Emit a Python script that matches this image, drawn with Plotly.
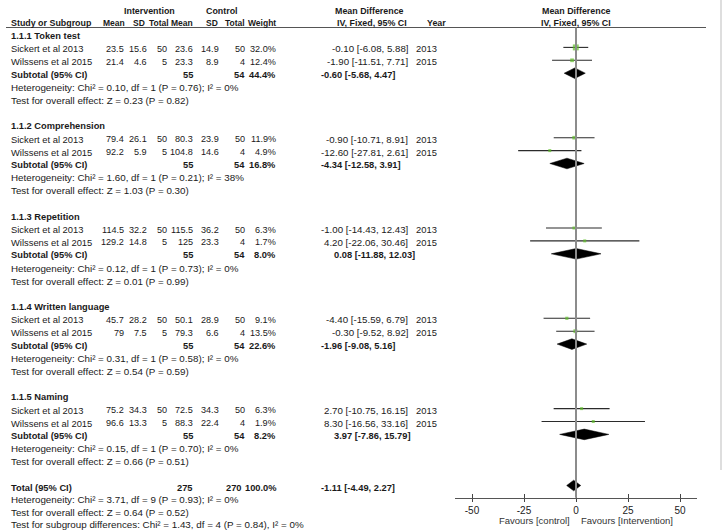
import plotly.graph_objects as go

# ---------------- data ----------------
subgroups = ["1.1.1 Token test", "1.1.2 Comprehension", "1.1.3 Repetition",
             "1.1.4 Written language", "1.1.5 Naming"]
study_names = ["Sickert et al 2013", "Wilssens et al 2015"]
study_years = ["2013", "2015"]

int_mean = [[23.5, 21.4], [79.4, 92.2], [114.5, 129.2], [45.7, 79], [75.2, 96.6]]
int_sd = [[15.6, 4.6], [26.1, 5.9], [32.2, 14.8], [28.2, 7.5], [34.3, 13.3]]
int_n = [[50, 5], [50, 5], [50, 5], [50, 5], [50, 5]]
ctl_mean = [[23.6, 23.3], [80.3, 104.8], [115.5, 125], [50.1, 79.3], [72.5, 88.3]]
ctl_sd = [[14.9, 8.9], [23.9, 14.6], [36.2, 23.3], [28.9, 6.6], [34.3, 22.4]]
ctl_n = [[50, 4], [50, 4], [50, 4], [50, 4], [50, 4]]
weights = [[32.0, 12.4], [11.9, 4.9], [6.3, 1.7], [9.1, 13.5], [6.3, 1.9]]
md = [[-0.10, -1.90], [-0.90, -12.60], [-1.00, 4.20], [-4.40, -0.30], [2.70, 8.30]]
md_lo = [[-6.08, -11.51], [-10.71, -27.81], [-14.43, -22.06], [-15.59, -9.52], [-10.75, -16.56]]
md_hi = [[5.88, 7.71], [8.91, 2.61], [12.43, 30.46], [6.79, 8.92], [16.15, 33.16]]

sub_int_n = [55, 55, 55, 55, 55]
sub_ctl_n = [54, 54, 54, 54, 54]
sub_weight = [44.4, 16.8, 8.0, 22.6, 8.2]
sub_md = [-0.60, -4.34, 0.08, -1.96, 3.97]
sub_lo = [-5.68, -12.58, -11.88, -9.08, -7.86]
sub_hi = [4.47, 3.91, 12.03, 5.16, 15.79]
sub_het = ["Chi² = 0.10, df = 1 (P = 0.76); I² = 0%",
           "Chi² = 1.60, df = 1 (P = 0.21); I² = 38%",
           "Chi² = 0.12, df = 1 (P = 0.73); I² = 0%",
           "Chi² = 0.31, df = 1 (P = 0.58); I² = 0%",
           "Chi² = 0.15, df = 1 (P = 0.70); I² = 0%"]
sub_z = ["Z = 0.23 (P = 0.82)", "Z = 1.03 (P = 0.30)", "Z = 0.01 (P = 0.99)",
         "Z = 0.54 (P = 0.59)", "Z = 0.66 (P = 0.51)"]

total_int_n = 275
total_ctl_n = 270
total_weight = 100.0
total_md = -1.11
total_lo = -4.49
total_hi = 2.27
total_het = "Chi² = 3.71, df = 9 (P = 0.93); I² = 0%"
total_z = "Z = 0.64 (P = 0.52)"
subgroup_diff = "Chi² = 1.43, df = 4 (P = 0.84), I² = 0%"

axis_ticks = [-50, -25, 0, 25, 50]
favours_left = "Favours [control]"
favours_right = "Favours [Intervention]"

# ---------------- layout helpers ----------------
W, H = 723, 532
FONT = "Liberation Sans, Arial, sans-serif"
FS = 9.8     # regular descriptive text
NFS = 9.1    # numeric table columns
BFS = 9.3    # bold body text
HFS = 8.9    # header text
CHFS = 8.5   # column header text
TXT = "#1a1a1a"
GREEN = "#5fbf2a"

Y0, PITCH = 36.0, 12.9
AXIS_Y = 497.7
HEAD_LINE_Y = 27.5

# forest x-axis pixel geometry
PX_L, PX_R, PX_ZERO, PX_PER_UNIT = 455, 697, 576, 2.08
x_range = [(PX_L - PX_ZERO) / PX_PER_UNIT, (PX_R - PX_ZERO) / PX_PER_UNIT]

# column x positions (pixels)
C_NAME = 10
C_IM, C_ISD, C_IN = 125, 148, 168
C_CM, C_CSD, C_CN = 194, 220, 246
C_SUBN = 194
C_W = 277
C_CI = 409
C_CI_BOLD_NEG, C_CI_BOLD_POS = 320, 333
C_YEAR = 415

ann = []


def txt(x, y, s, anchor="left", bold=False, size=None, color=TXT):
    if size is None:
        size = BFS if bold else FS
    if bold:
        s = "<b>" + s + "</b>"
    ann.append(dict(x=x / W, xref="paper", y=y, yref="y", text=s, showarrow=False,
                    xanchor=anchor, yanchor="middle", borderpad=0,
                    font=dict(size=size, color=color, family=FONT)))


def g(v):
    return f"{v:g}"


def ci(m, lo, hi):
    return f"{m:.2f} [{lo:.2f}, {hi:.2f}]"


fig = go.Figure()

# headers
txt(149, 11, "Intervention", "center", True, HFS)
txt(222, 11, "Control", "center", True, HFS)
txt(370, 11, "Mean Difference", "center", True, HFS)
txt(PX_ZERO, 11, "Mean Difference", "center", True, HFS)
hy = 22.5
txt(C_NAME, hy, "Study or Subgroup", "left", True, HFS)
txt(C_IM + 1, hy, "Mean", "right", True, CHFS)
txt(C_ISD - 2, hy, "SD", "right", True, CHFS)
txt(C_IN + 2, hy, "Total", "right", True, CHFS)
txt(C_CM, hy, "Mean", "right", True, CHFS)
txt(C_CSD - 1, hy, "SD", "right", True, CHFS)
txt(C_CN, hy, "Total", "right", True, CHFS)
txt(C_W, hy, "Weight", "right", True, CHFS)
txt(C_CI - 1, hy, "IV, Fixed, 95% CI", "right", True, HFS)
txt(447, hy, "Year", "right", True, HFS)
txt(PX_ZERO, hy, "IV, Fixed, 95% CI", "center", True, HFS)

ci_x, ci_y = [], []
pt_x, pt_y, pt_s = [], [], []
diamonds = []

row = 0
for gi, sg in enumerate(subgroups):
    y = Y0 + PITCH * row
    txt(C_NAME, y, sg, "left", True)
    row += 1
    for si in range(len(study_names)):
        y = Y0 + PITCH * row
        txt(C_NAME, y, study_names[si], size=9.4)
        txt(C_IM, y, g(int_mean[gi][si]), "right", size=NFS)
        txt(C_ISD, y, g(int_sd[gi][si]), "right", size=NFS)
        txt(C_IN, y, g(int_n[gi][si]), "right", size=NFS)
        txt(C_CM, y, g(ctl_mean[gi][si]), "right", size=NFS)
        txt(C_CSD, y, g(ctl_sd[gi][si]), "right", size=NFS)
        txt(C_CN, y, g(ctl_n[gi][si]), "right", size=NFS)
        txt(C_W, y, f"{weights[gi][si]:.1f}%", "right", size=NFS)
        txt(C_CI, y, ci(md[gi][si], md_lo[gi][si], md_hi[gi][si]), "right", size=9.7)
        txt(C_YEAR, y, study_years[si], "left", size=9.4)
        ci_x += [md_lo[gi][si], md_hi[gi][si], None]
        ci_y += [y - 1.5, y - 1.5, None]
        pt_x.append(md[gi][si])
        pt_y.append(y - 1.5)
        pt_s.append(max(3.0, 1.05 * weights[gi][si] ** 0.5))
        row += 1
    y = Y0 + PITCH * row
    txt(C_NAME, y, "Subtotal (95% CI)", "left", True)
    txt(C_SUBN, y, g(sub_int_n[gi]), "right", True)
    txt(C_CN, y, g(sub_ctl_n[gi]), "right", True)
    txt(C_W, y, f"{sub_weight[gi]:.1f}%", "right", True)
    txt(C_CI_BOLD_NEG if sub_md[gi] < 0 else C_CI_BOLD_POS, y,
        ci(sub_md[gi], sub_lo[gi], sub_hi[gi]), "left", True)
    diamonds.append((sub_lo[gi], sub_md[gi], sub_hi[gi], y - 1.5))
    row += 1
    txt(C_NAME, Y0 + PITCH * row, "Heterogeneity: " + sub_het[gi])
    row += 1
    txt(C_NAME, Y0 + PITCH * row, "Test for overall effect: " + sub_z[gi])
    row += 2

# total block
y = Y0 + PITCH * row
txt(C_NAME, y, "Total (95% CI)", "left", True)
txt(C_SUBN, y, g(total_int_n), "right", True)
txt(C_CN - 3, y, g(total_ctl_n), "right", True)
txt(C_W + 1, y, f"{total_weight:.1f}%", "right", True)
txt(C_CI_BOLD_NEG if total_md < 0 else C_CI_BOLD_POS, y, ci(total_md, total_lo, total_hi), "left", True)
diamonds.append((total_lo, total_md, total_hi, y - 2))
PB = 12.4
txt(C_NAME, y + PB, "Heterogeneity: " + total_het)
txt(C_NAME, y + 2 * PB, "Test for overall effect: " + total_z)
txt(C_NAME, y + 3 * PB, "Test for subgroup differences: " + subgroup_diff)

# favours labels
txt(571, 520.5, favours_left, "right", size=9.5, color="#333")
txt(580, 520.5, favours_right, "left", size=9.5, color="#333")

# ---------------- traces ----------------
fig.add_trace(go.Scatter(x=ci_x, y=ci_y, mode="lines", line=dict(color="#2b2b2b", width=1.1),
                         hoverinfo="skip", showlegend=False))
for lo, m, hi, yy in diamonds:
    HH = 5.3
    fig.add_trace(go.Scatter(x=[lo, m, hi, m, lo], y=[yy, yy - HH, yy, yy + HH, yy],
                             mode="lines", fill="toself", fillcolor="black",
                             line=dict(color="black", width=0.5), hoverinfo="skip",
                             showlegend=False))
fig.add_trace(go.Scatter(x=pt_x, y=pt_y, mode="markers",
                         marker=dict(symbol="square", size=pt_s, color=GREEN, line=dict(width=0)),
                         hoverinfo="skip", showlegend=False))
# invisible trace for crossing ticks axis
fig.add_trace(go.Scatter(x=[0], y=[AXIS_Y], xaxis="x2", mode="markers",
                         marker=dict(opacity=0), hoverinfo="skip", showlegend=False))

axis_pos = (H - AXIS_Y) / H
dom = [PX_L / W, PX_R / W]
shapes = [
    dict(type="line", xref="paper", yref="y", x0=6 / W, x1=706 / W,
         y0=HEAD_LINE_Y, y1=HEAD_LINE_Y, line=dict(color="#555", width=1.2)),
    dict(type="line", xref="x", yref="y", x0=0, x1=0, y0=HEAD_LINE_Y, y1=AXIS_Y,
         line=dict(color="#8c8c8c", width=2)),
    dict(type="line", xref="paper", yref="y", x0=721 / W, x1=721 / W, y0=0, y1=470,
         line=dict(color="#dedede", width=2)),
]

fig.update_layout(
    width=W, height=H, margin=dict(l=0, r=0, t=0, b=0),
    paper_bgcolor="white", plot_bgcolor="white",
    font=dict(family=FONT, size=FS, color=TXT),
    showlegend=False,
    annotations=ann, shapes=shapes,
    xaxis=dict(domain=dom, range=x_range, anchor="free", position=axis_pos,
               tickvals=axis_ticks, ticktext=[str(t) for t in axis_ticks],
               ticks="outside", ticklen=3.5, tickwidth=1.2, tickcolor="#444",
               showline=True, linecolor="#555", linewidth=1.3,
               showgrid=False, zeroline=False, fixedrange=True,
               tickfont=dict(size=10, color="#222", family=FONT)),
    xaxis2=dict(domain=dom, range=x_range, anchor="free", position=axis_pos,
                overlaying="x", tickvals=axis_ticks, ticks="inside", ticklen=3.5,
                tickwidth=1.2, tickcolor="#444", showticklabels=False,
                showline=False, showgrid=False, zeroline=False),
    yaxis=dict(domain=[0, 1], range=[H, 0], visible=False, showgrid=False,
               zeroline=False, fixedrange=True),
)

fig.write_html("out.html", config={"displayModeBar": False},
               post_script="document.body.style.margin='0px';document.body.style.overflow='hidden';")
